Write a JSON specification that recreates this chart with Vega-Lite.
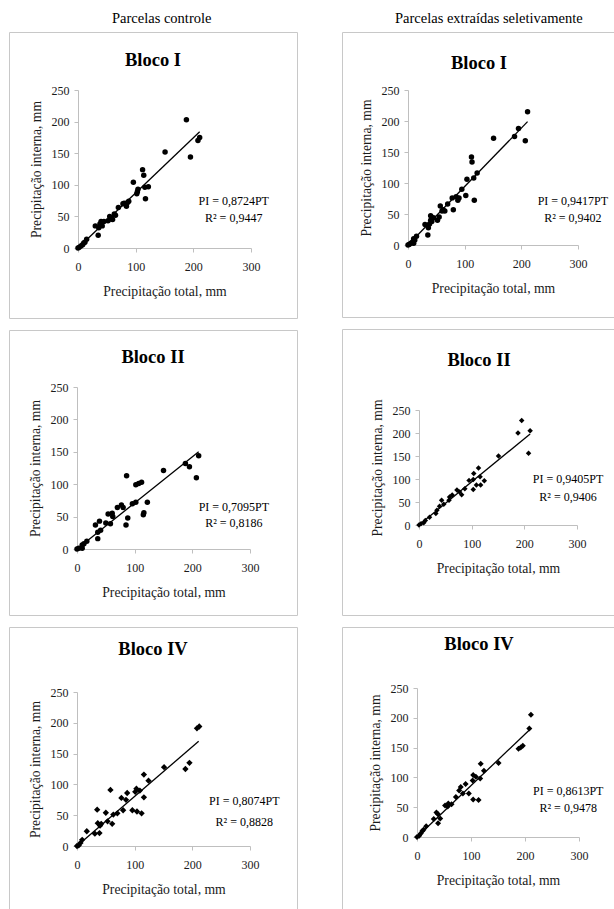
{
  "$schema": "https://vega.github.io/schema/vega-lite/v6.json",
  "background": "white",
  "padding": {"left": 8, "top": 11, "right": 0, "bottom": 0},
  "config": {
    "view": {"stroke": "#c8c8c8", "strokeWidth": 1},
    "font": "Liberation Serif",
    "title": {"font": "Liberation Serif", "fontSize": 18.5, "fontWeight": "bold", "anchor": "middle", "frame": "group", "color": "black", "baseline": "middle"},
    "axis": {"grid": false, "domainColor": "#bfbfbf", "tickColor": "#bfbfbf", "tickSize": 4, "labelFont": "Liberation Serif", "labelFontSize": 12, "labelColor": "#1a1a1a", "labelPadding": 5, "labelFlush": false, "labelOverlap": false, "titleFont": "Liberation Serif", "titleFontSize": 13.7, "titleFontWeight": "normal", "titleColor": "#1a1a1a"},
    "axisX": {"labelPadding": 9, "titlePadding": 12},
    "axisY": {"titlePadding": 8},
    "point": {"opacity": 1}
  },
  "hconcat": [
    {
      "title": {"text": "Parcelas controle", "font": "Liberation Serif", "fontSize": 14.5, "fontWeight": "normal", "color": "black", "anchor": "start", "frame": "group", "offset": -9, "dx": 103, "baseline": "bottom"},
      "spacing": 12,
      "bounds": "flush",
      "vconcat": [
        {
          "width": 288, "height": 286,
          "title": {"text": "Bloco I", "offset": -37},
          "encoding": {
            "x": {"field": "x", "type": "quantitative", "scale": {"domain": [0, 300], "range": [69, 242], "nice": false, "zero": false}, "axis": {"offset": -70, "title": "Precipitação total, mm", "values": [0, 100, 200, 300]}},
            "y": {"field": "y", "type": "quantitative", "scale": {"domain": [0, 250], "range": [216, 58], "nice": false, "zero": false}, "axis": {"offset": -69, "title": "Precipitação interna, mm", "values": [0, 50, 100, 150, 200, 250]}}
          },
          "layer": [
            {"data": {"values": [{"x":0,"y":0},{"x":2,"y":1},{"x":5,"y":3},{"x":8,"y":5},{"x":10,"y":8},{"x":12,"y":9},{"x":15,"y":14},{"x":30,"y":35},{"x":35,"y":20},{"x":36,"y":32},{"x":38,"y":38},{"x":40,"y":42},{"x":42,"y":35},{"x":45,"y":42},{"x":52,"y":43},{"x":55,"y":50},{"x":57,"y":46},{"x":58,"y":48},{"x":60,"y":45},{"x":63,"y":54},{"x":65,"y":52},{"x":70,"y":64},{"x":78,"y":70},{"x":80,"y":71},{"x":84,"y":66},{"x":86,"y":72},{"x":88,"y":74},{"x":96,"y":104},{"x":102,"y":86},{"x":103,"y":89},{"x":104,"y":93},{"x":112,"y":124},{"x":114,"y":115},{"x":116,"y":96},{"x":117,"y":78},{"x":122,"y":97},{"x":151,"y":152},{"x":188,"y":203},{"x":195,"y":144},{"x":208,"y":170},{"x":211,"y":175}]},
             "mark": {"type": "point", "filled": true, "shape": "circle", "size": 30, "color": "black"}},
            {"data": {"values": [{"x":0,"y":0},{"x":211,"y":184}]}, "mark": {"type": "line", "color": "black", "strokeWidth": 1.3}},
            {"data": {"values": [{"x":270,"y":74,"t":"PI = 0,8724PT"},{"x":270,"y":47.5,"t":"R² = 0,9447"}]}, "mark": {"type": "text", "font": "Liberation Serif", "fontSize": 12, "color": "black"}, "encoding": {"text": {"field": "t"}}}
          ]
        },
        {
          "width": 288, "height": 285,
          "title": {"text": "Bloco II", "offset": -36},
          "encoding": {
            "x": {"field": "x", "type": "quantitative", "scale": {"domain": [0, 300], "range": [68, 241], "nice": false, "zero": false}, "axis": {"offset": -66, "title": "Precipitação total, mm", "values": [0, 100, 200, 300]}},
            "y": {"field": "y", "type": "quantitative", "scale": {"domain": [0, 250], "range": [219, 57], "nice": false, "zero": false}, "axis": {"offset": -68, "title": "Precipitação interna, mm", "values": [0, 50, 100, 150, 200, 250]}}
          },
          "layer": [
            {"data": {"values": [{"x":0,"y":0},{"x":3,"y":1},{"x":9,"y":1},{"x":9,"y":6},{"x":12,"y":8},{"x":17,"y":12},{"x":32,"y":37},{"x":36,"y":16},{"x":36,"y":26},{"x":39,"y":43},{"x":41,"y":29},{"x":50,"y":40},{"x":54,"y":54},{"x":58,"y":39},{"x":61,"y":55},{"x":62,"y":50},{"x":70,"y":64},{"x":77,"y":68},{"x":80,"y":64},{"x":85,"y":37},{"x":86,"y":113},{"x":88,"y":48},{"x":96,"y":70},{"x":102,"y":72},{"x":102,"y":99},{"x":107,"y":101},{"x":112,"y":103},{"x":115,"y":53},{"x":116,"y":56},{"x":122,"y":72},{"x":150,"y":121},{"x":188,"y":132},{"x":195,"y":127},{"x":207,"y":110},{"x":211,"y":144}]},
             "mark": {"type": "point", "filled": true, "shape": "circle", "size": 30, "color": "black"}},
            {"data": {"values": [{"x":0,"y":0},{"x":211,"y":150}]}, "mark": {"type": "line", "color": "black", "strokeWidth": 1.3}},
            {"data": {"values": [{"x":272,"y":65,"t":"PI = 0,7095PT"},{"x":272,"y":40,"t":"R² = 0,8186"}]}, "mark": {"type": "text", "font": "Liberation Serif", "fontSize": 12, "color": "black"}, "encoding": {"text": {"field": "t"}}}
          ]
        },
        {
          "width": 288, "height": 282,
          "title": {"text": "Bloco IV", "offset": -31},
          "encoding": {
            "x": {"field": "x", "type": "quantitative", "scale": {"domain": [0, 300], "range": [68, 241], "nice": false, "zero": false}, "axis": {"offset": -63, "title": "Precipitação total, mm", "values": [0, 100, 200, 300]}},
            "y": {"field": "y", "type": "quantitative", "scale": {"domain": [0, 250], "range": [219, 65], "nice": false, "zero": false}, "axis": {"offset": -68, "title": "Precipitação interna, mm", "values": [0, 50, 100, 150, 200, 250]}}
          },
          "layer": [
            {"data": {"values": [{"x":0,"y":0},{"x":3,"y":1},{"x":6,"y":5},{"x":9,"y":10},{"x":17,"y":24},{"x":31,"y":20},{"x":35,"y":59},{"x":36,"y":37},{"x":39,"y":21},{"x":40,"y":33},{"x":42,"y":36},{"x":50,"y":54},{"x":53,"y":40},{"x":58,"y":91},{"x":61,"y":36},{"x":63,"y":51},{"x":70,"y":53},{"x":77,"y":78},{"x":80,"y":58},{"x":85,"y":75},{"x":87,"y":86},{"x":96,"y":58},{"x":101,"y":88},{"x":103,"y":93},{"x":104,"y":56},{"x":109,"y":90},{"x":112,"y":53},{"x":116,"y":116},{"x":116,"y":79},{"x":124,"y":106},{"x":151,"y":128},{"x":188,"y":125},{"x":195,"y":135},{"x":208,"y":191},{"x":212,"y":194}]},
             "mark": {"type": "point", "filled": true, "shape": "diamond", "size": 40, "color": "black"}},
            {"data": {"values": [{"x":0,"y":0},{"x":211,"y":170}]}, "mark": {"type": "line", "color": "black", "strokeWidth": 1.3}},
            {"data": {"values": [{"x":290,"y":73,"t":"PI = 0,8074PT"},{"x":290,"y":39,"t":"R² = 0,8828"}]}, "mark": {"type": "text", "font": "Liberation Serif", "fontSize": 12, "color": "black"}, "encoding": {"text": {"field": "t"}}}
          ]
        }
      ]
    },
    {
      "title": {"text": "Parcelas extraídas seletivamente", "font": "Liberation Serif", "fontSize": 14.5, "fontWeight": "normal", "color": "black", "anchor": "start", "frame": "group", "offset": -9, "dx": 53, "baseline": "bottom"},
      "spacing": 12,
      "bounds": "flush",
      "vconcat": [
        {
          "width": 274, "height": 285,
          "title": {"text": "Bloco I", "offset": -40},
          "encoding": {
            "x": {"field": "x", "type": "quantitative", "scale": {"domain": [0, 300], "range": [66, 236], "nice": false, "zero": false}, "axis": {"offset": -72, "title": "Precipitação total, mm", "values": [0, 100, 200, 300]}},
            "y": {"field": "y", "type": "quantitative", "scale": {"domain": [0, 250], "range": [213, 58], "nice": false, "zero": false}, "axis": {"offset": -66, "title": "Precipitação interna, mm", "values": [0, 50, 100, 150, 200, 250]}}
          },
          "layer": [
            {"data": {"values": [{"x":0,"y":0},{"x":2,"y":1},{"x":5,"y":3},{"x":8,"y":5},{"x":10,"y":3},{"x":10,"y":10},{"x":12,"y":8},{"x":15,"y":14},{"x":30,"y":33},{"x":35,"y":16},{"x":36,"y":28},{"x":38,"y":34},{"x":40,"y":47},{"x":40,"y":40},{"x":42,"y":38},{"x":45,"y":44},{"x":52,"y":40},{"x":55,"y":45},{"x":57,"y":63},{"x":60,"y":55},{"x":62,"y":57},{"x":65,"y":55},{"x":70,"y":66},{"x":78,"y":76},{"x":80,"y":57},{"x":85,"y":78},{"x":88,"y":72},{"x":90,"y":76},{"x":95,"y":90},{"x":102,"y":80},{"x":104,"y":106},{"x":112,"y":142},{"x":113,"y":134},{"x":116,"y":108},{"x":117,"y":72},{"x":122,"y":116},{"x":151,"y":172},{"x":188,"y":175},{"x":195,"y":188},{"x":207,"y":168},{"x":211,"y":215}]},
             "mark": {"type": "point", "filled": true, "shape": "circle", "size": 30, "color": "black"}},
            {"data": {"values": [{"x":0,"y":0},{"x":211,"y":199}]}, "mark": {"type": "line", "color": "black", "strokeWidth": 1.3}},
            {"data": {"values": [{"x":291,"y":71,"t":"PI = 0,9417PT"},{"x":291,"y":43.5,"t":"R² = 0,9402"}]}, "mark": {"type": "text", "font": "Liberation Serif", "fontSize": 12, "color": "black"}, "encoding": {"text": {"field": "t"}}}
          ]
        },
        {
          "width": 274, "height": 286,
          "title": {"text": "Bloco II", "offset": -40},
          "encoding": {
            "x": {"field": "x", "type": "quantitative", "scale": {"domain": [0, 300], "range": [77, 235], "nice": false, "zero": false}, "axis": {"offset": -90, "title": "Precipitação total, mm", "values": [0, 100, 200, 300]}},
            "y": {"field": "y", "type": "quantitative", "scale": {"domain": [0, 250], "range": [196, 81], "nice": false, "zero": false}, "axis": {"offset": -77, "title": "Precipitação interna, mm", "values": [0, 50, 100, 150, 200, 250]}}
          },
          "layer": [
            {"data": {"values": [{"x":0,"y":0},{"x":4,"y":3},{"x":9,"y":5},{"x":12,"y":10},{"x":20,"y":17},{"x":32,"y":25},{"x":34,"y":32},{"x":39,"y":41},{"x":43,"y":54},{"x":47,"y":45},{"x":57,"y":54},{"x":58,"y":61},{"x":63,"y":65},{"x":72,"y":76},{"x":77,"y":72},{"x":81,"y":66},{"x":87,"y":79},{"x":95,"y":97},{"x":103,"y":77},{"x":103,"y":99},{"x":104,"y":112},{"x":109,"y":87},{"x":113,"y":124},{"x":116,"y":105},{"x":117,"y":87},{"x":124,"y":96},{"x":151,"y":150},{"x":188,"y":200},{"x":195,"y":227},{"x":208,"y":156},{"x":211,"y":205}]},
             "mark": {"type": "point", "filled": true, "shape": "diamond", "size": 30, "color": "black"}},
            {"data": {"values": [{"x":0,"y":0},{"x":211,"y":198}]}, "mark": {"type": "line", "color": "black", "strokeWidth": 1.3}},
            {"data": {"values": [{"x":283,"y":100,"t":"PI = 0,9405PT"},{"x":283,"y":61,"t":"R² = 0,9406"}]}, "mark": {"type": "text", "font": "Liberation Serif", "fontSize": 12, "color": "black"}, "encoding": {"text": {"field": "t"}}}
          ]
        },
        {
          "width": 274, "height": 282,
          "title": {"text": "Bloco IV", "offset": -26},
          "encoding": {
            "x": {"field": "x", "type": "quantitative", "scale": {"domain": [0, 300], "range": [75, 237], "nice": false, "zero": false}, "axis": {"offset": -72, "title": "Precipitação total, mm", "values": [0, 100, 200, 300]}},
            "y": {"field": "y", "type": "quantitative", "scale": {"domain": [0, 250], "range": [210, 61], "nice": false, "zero": false}, "axis": {"offset": -75, "title": "Precipitação interna, mm", "values": [0, 50, 100, 150, 200, 250]}}
          },
          "layer": [
            {"data": {"values": [{"x":0,"y":0},{"x":4,"y":2},{"x":7,"y":6},{"x":10,"y":10},{"x":12,"y":12},{"x":17,"y":18},{"x":31,"y":30},{"x":36,"y":41},{"x":39,"y":38},{"x":39,"y":23},{"x":43,"y":31},{"x":52,"y":53},{"x":57,"y":51},{"x":58,"y":56},{"x":64,"y":55},{"x":72,"y":67},{"x":78,"y":78},{"x":81,"y":84},{"x":85,"y":73},{"x":90,"y":89},{"x":96,"y":73},{"x":103,"y":95},{"x":104,"y":104},{"x":104,"y":63},{"x":109,"y":101},{"x":114,"y":62},{"x":117,"y":98},{"x":118,"y":123},{"x":124,"y":111},{"x":151,"y":124},{"x":188,"y":148},{"x":192,"y":150},{"x":196,"y":153},{"x":208,"y":182},{"x":211,"y":205}]},
             "mark": {"type": "point", "filled": true, "shape": "diamond", "size": 36, "color": "black"}},
            {"data": {"values": [{"x":0,"y":0},{"x":211,"y":182}]}, "mark": {"type": "line", "color": "black", "strokeWidth": 1.3}},
            {"data": {"values": [{"x":280,"y":77,"t":"PI = 0,8613PT"},{"x":280,"y":48.7,"t":"R² = 0,9478"}]}, "mark": {"type": "text", "font": "Liberation Serif", "fontSize": 12, "color": "black"}, "encoding": {"text": {"field": "t"}}}
          ]
        }
      ]
    }
  ],
  "spacing": 43
}
